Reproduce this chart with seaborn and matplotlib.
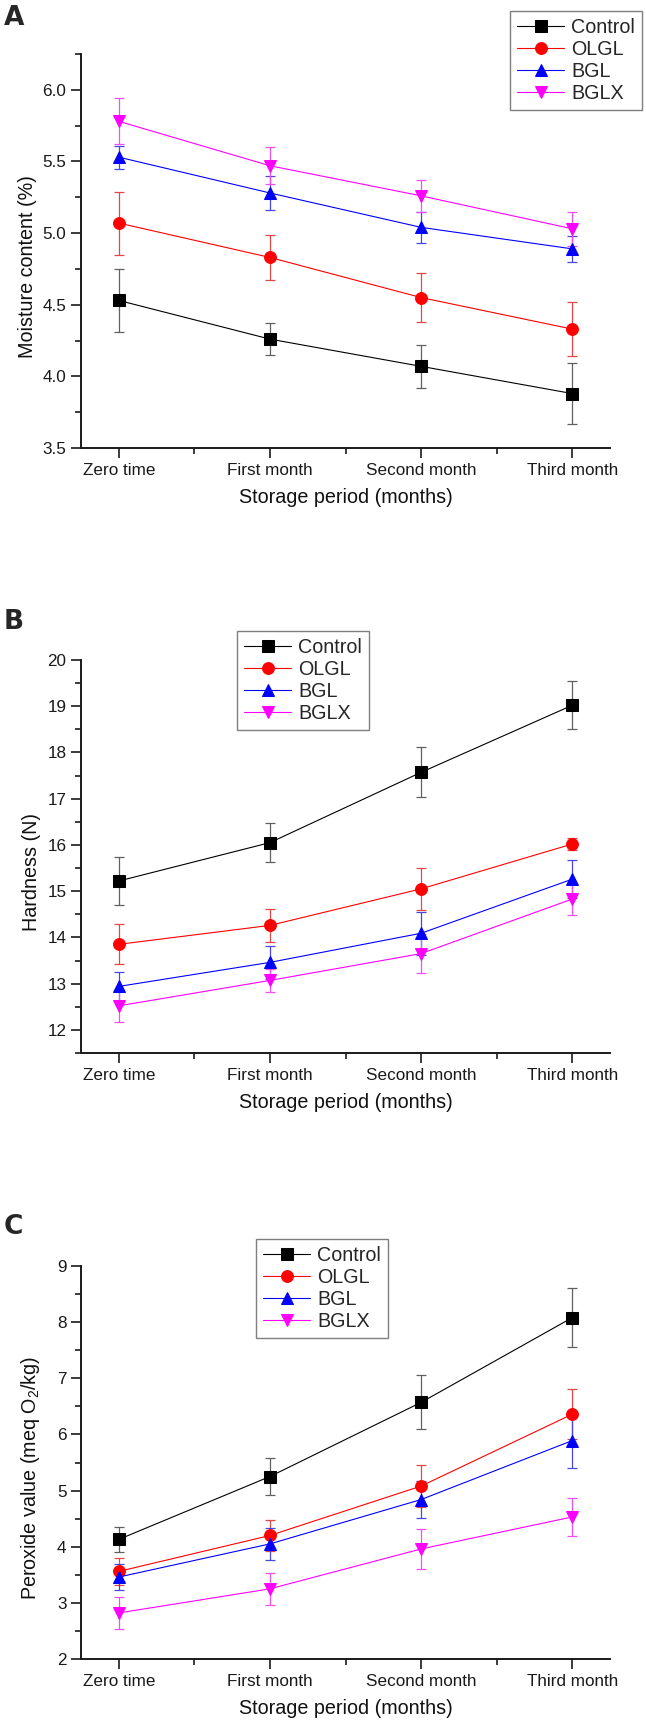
import matplotlib
matplotlib.use("Agg")
import matplotlib.pyplot as plt
from matplotlib.ticker import MultipleLocator, FormatStrFormatter
import numpy as np
import pandas as pd
import seaborn as sns

periods = ['Zero time', 'First month', 'Second month', 'Third month']
groups = ['Control', 'OLGL', 'BGL', 'BGLX']

# panel A - moisture content (%)
moist_control = [4.53, 4.26, 4.07, 3.88]
moist_olgl = [5.07, 4.83, 4.55, 4.33]
moist_bgl = [5.53, 5.28, 5.04, 4.89]
moist_bglx = [5.78, 5.47, 5.26, 5.03]
moist_control_sd = [0.22, 0.11, 0.15, 0.21]
moist_olgl_sd = [0.22, 0.16, 0.17, 0.19]
moist_bgl_sd = [0.08, 0.12, 0.11, 0.09]
moist_bglx_sd = [0.16, 0.13, 0.11, 0.12]

# panel B - hardness (N)
hard_control = [15.22, 16.05, 17.57, 19.02]
hard_olgl = [13.85, 14.26, 15.05, 16.02]
hard_bgl = [12.94, 13.46, 14.09, 15.26]
hard_bglx = [12.52, 13.07, 13.65, 14.83]
hard_control_sd = [0.51, 0.42, 0.54, 0.52]
hard_olgl_sd = [0.43, 0.35, 0.45, 0.14]
hard_bgl_sd = [0.31, 0.36, 0.46, 0.41]
hard_bglx_sd = [0.34, 0.25, 0.43, 0.34]

# panel C - peroxide value
perox_control = [4.13, 5.25, 6.57, 8.08]
perox_olgl = [3.56, 4.20, 5.08, 6.36]
perox_bgl = [3.46, 4.05, 4.84, 5.89]
perox_bglx = [2.82, 3.25, 3.96, 4.53]
perox_control_sd = [0.23, 0.33, 0.48, 0.52]
perox_olgl_sd = [0.24, 0.27, 0.37, 0.45]
perox_bgl_sd = [0.23, 0.28, 0.33, 0.48]
perox_bglx_sd = [0.29, 0.28, 0.36, 0.34]

colors = {'Control': '#000000', 'OLGL': '#ff0000', 'BGL': '#0000ff', 'BGLX': '#ff00ff'}
err_colors = {'Control': '#606060', 'OLGL': '#e04848', 'BGL': '#4848e0', 'BGLX': '#f050f0'}
markers = {'Control': 's', 'OLGL': 'o', 'BGL': '^', 'BGLX': 'v'}

sns.set_style('ticks')
plt.rcParams['font.family'] = ['Liberation Sans', 'DejaVu Sans']
plt.rcParams['mathtext.default'] = 'regular'


def make_df(vals, sds):
    rows = []
    for g, v, s in zip(groups, vals, sds):
        for i, p in enumerate(periods):
            rows.append({'group': g, 'pos': i, 'period': p, 'value': v[i], 'sd': s[i]})
    return pd.DataFrame(rows)


panels = [
    dict(letter='A', df=make_df([moist_control, moist_olgl, moist_bgl, moist_bglx],
                                [moist_control_sd, moist_olgl_sd, moist_bgl_sd, moist_bglx_sd]),
         ylabel='Moisture content (%)', ylim=(3.5, 6.25), major=0.5, fmt='%.1f',
         top=54, bottom=448, letter_y=18, ylab_x=-0.083,
         leg_loc='upper right', leg_xy=(642, 11)),
    dict(letter='B', df=make_df([hard_control, hard_olgl, hard_bgl, hard_bglx],
                                [hard_control_sd, hard_olgl_sd, hard_bgl_sd, hard_bglx_sd]),
         ylabel='Hardness (N)', ylim=(11.5, 20), major=1, fmt='%d',
         top=660, bottom=1053, letter_y=622, ylab_x=-0.076,
         leg_loc='upper left', leg_xy=(237, 631)),
    dict(letter='C', df=make_df([perox_control, perox_olgl, perox_bgl, perox_bglx],
                                [perox_control_sd, perox_olgl_sd, perox_bgl_sd, perox_bglx_sd]),
         ylabel='Peroxide value (meq O$_2$/kg)', ylim=(2, 9), major=1, fmt='%d',
         top=1266, bottom=1659, letter_y=1227, ylab_x=-0.074,
         leg_loc='upper left', leg_xy=(256, 1239)),
]

W, H = 646, 1727
fig = plt.figure(figsize=(W / 100, H / 100), dpi=100)

for pn in panels:
    ax = fig.add_axes([81 / W, 1 - pn['bottom'] / H, 529 / W, (pn['bottom'] - pn['top']) / H])
    df = pn['df']

    # error bars first so the markers sit on top
    for g in groups:
        d = df[df.group == g]
        ax.errorbar(d['pos'], d['value'], yerr=d['sd'], fmt='none', ecolor=err_colors[g],
                    elinewidth=0.9, capsize=3.5, capthick=0.9, zorder=2)

    n_before = len(ax.lines)
    sns.lineplot(data=df, x='pos', y='value', hue='group', style='group',
                 hue_order=groups, style_order=groups, palette=colors,
                 markers=markers, dashes=False, markersize=8.5, linewidth=0.8,
                 ax=ax, zorder=3)
    for ln in ax.lines[n_before:]:
        ln.set_markeredgecolor(ln.get_color())
        ln.set_markerfacecolor(ln.get_color())

    ax.set_xlim(-0.25, 3.25)
    ax.set_ylim(*pn['ylim'])
    ax.set_xticks(range(len(periods)))
    ax.set_xticklabels(periods)
    ax.xaxis.set_minor_locator(MultipleLocator(0.5))
    ax.yaxis.set_major_locator(MultipleLocator(pn['major']))
    ax.yaxis.set_minor_locator(MultipleLocator(pn['major'] / 2))
    ax.yaxis.set_major_formatter(FormatStrFormatter(pn['fmt']))
    if pn['letter'] == 'A':
        ax.set_yticks(np.arange(3.5, 6.01, 0.5))

    ax.tick_params(which='major', direction='out', length=7, width=1.2, labelsize=12.3,
                   pad=3.5, colors='#1a1a1a')
    ax.tick_params(which='minor', direction='out', length=4.5, width=1.2, colors='#1a1a1a')
    for s in ['top', 'right']:
        ax.spines[s].set_visible(False)
    for s in ['left', 'bottom']:
        ax.spines[s].set_linewidth(1.4)
        ax.spines[s].set_color('#1a1a1a')

    ax.set_xlabel('Storage period (months)', fontsize=14.2, color='#111111')
    ax.set_ylabel(pn['ylabel'], fontsize=14.2, color='#111111')
    ax.xaxis.set_label_coords(0.5, -0.102)
    ax.yaxis.set_label_coords(pn['ylab_x'], 0.46)

    handles, labels = ax.get_legend_handles_labels()
    for h in handles:
        h.set_markeredgecolor(h.get_color())
        h.set_markerfacecolor(h.get_color())
        h.set_markersize(8.5)
    ax.get_legend().remove()
    lx, ly = pn['leg_xy']
    leg = ax.legend(handles, labels, loc=pn['leg_loc'], bbox_to_anchor=(lx / W, 1 - ly / H),
                    bbox_transform=fig.transFigure, borderaxespad=0, fontsize=14.2,
                    frameon=True, fancybox=False, edgecolor='#7f7f7f', framealpha=1,
                    handlelength=2.4, handletextpad=0.35, labelspacing=0.15, borderpad=0.35)
    leg.get_frame().set_linewidth(1.0)

    fig.text(4 / W, 1 - pn['letter_y'] / H, pn['letter'], fontsize=19, fontweight='bold',
             family=['DejaVu Sans'], va='center', ha='left')

fig.savefig('out.png', dpi=100)
